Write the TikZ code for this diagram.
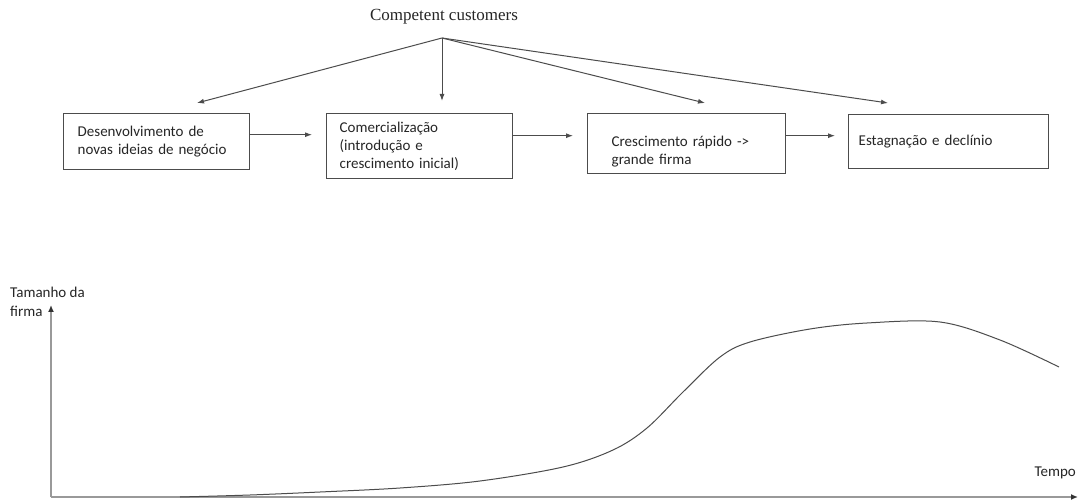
\documentclass[tikz,border=0pt]{standalone}
\usepackage{fontspec}
\setmainfont{Carlito}
\newfontfamily\serifcc{Liberation Serif}
\usetikzlibrary{arrows.meta,calc}
\newcommand{\dropline}[1]{\raisebox{-8pt}[\height][\depth]{#1}}
\begin{document}
\begin{tikzpicture}[x=1pt,y=-1pt,
  every node/.style={font=\fontsize{15}{18}\selectfont, text=black!85},
  boxnode/.style={draw=black!70, line width=1.4pt, rectangle, align=left, anchor=north west, inner ysep=0pt},
  arr/.style={draw=black!70, line width=1pt, -{Latex[length=7pt,width=5pt]}},
  axisline/.style={draw=black!40, line width=2pt},
  axisarr/.style={-{Latex[length=7pt,width=6pt,black!80]}},
  curveline/.style={draw=black!70, line width=1pt}]
\useasboundingbox (0,0) rectangle (1078,502);
\fill[white] (0,0) rectangle (1078,502);

% title
\node (cc) at (444,17) {\serifcc\fontsize{17}{18}\selectfont Competent customers};
\coordinate (apex) at (442,38);

% boxes
\node[boxnode, minimum width=185pt, minimum height=56pt, text width=158pt, inner xsep=14pt] (b1) at (63,113)
  {Desenvolvimento de\\novas ideias de negócio};
\node[boxnode, minimum width=185pt, minimum height=65pt, text width=160pt, inner xsep=13pt] (b2) at (326,113)
  {Comercialização\\(introdução e\\crescimento inicial)};
\node[boxnode, minimum width=184pt, minimum height=60pt, text width=150pt, inner xsep=24pt] (b3) at (587,113)
  {\dropline{Crescimento rápido ->}\\\dropline{grande firma}};
\node[boxnode, minimum width=199pt, minimum height=54pt, text width=180pt, inner xsep=10pt] (b4) at (848,114)
  {Estagnação e declínio};

% arrow tips above boxes
\coordinate (t1) at (197,103);
\coordinate (t2) at (442,101);
\coordinate (t3) at (705,103);
\coordinate (t4) at (888,103);
\draw[arr] (apex) -- (t1);
\draw[arr] (apex) -- (t2);
\draw[arr] (apex) -- (t3);
\draw[arr] (apex) -- (t4);

% horizontal arrows
\draw[arr, shorten >=14pt] ([yshift=7pt]b1.east) -- ([yshift=7pt]b1.east -| b2.west);
\draw[arr, shorten >=14pt] ([yshift=10.5pt]b2.east) -- ([yshift=10.5pt]b2.east -| b3.west);
\draw[arr, shorten >=13pt] ([yshift=8pt]b3.east) -- ([yshift=8pt]b3.east -| b4.west);

% axes
\coordinate (O) at (51,497);
\coordinate (ytop) at (51,305);
\coordinate (xend) at (1078,497);
\draw[axisline, axisarr] (O) -- (ytop);
\draw[axisline, axisarr] (O) -- (xend);
\node[anchor=north west, align=left, inner sep=0pt, font=\fontsize{15}{19}\selectfont] (ylab) at (10,287) {Tamanho da\\firma};
\node[anchor=east, inner sep=0pt, font=\fontsize{15}{16}\selectfont] (xlab) at (1076,473) {Tempo};

% curve
\draw[curveline] plot[smooth, tension=0.55] coordinates {
  (180,497) (250,495) (320,492) (400,488) (480,481) (563,467) (613,450)
  (647,428) (683,392) (720,357) (750,342) (810,329) (867,323) (940,322)
  (1000,340) (1059,367)};
\end{tikzpicture}
\end{document}
